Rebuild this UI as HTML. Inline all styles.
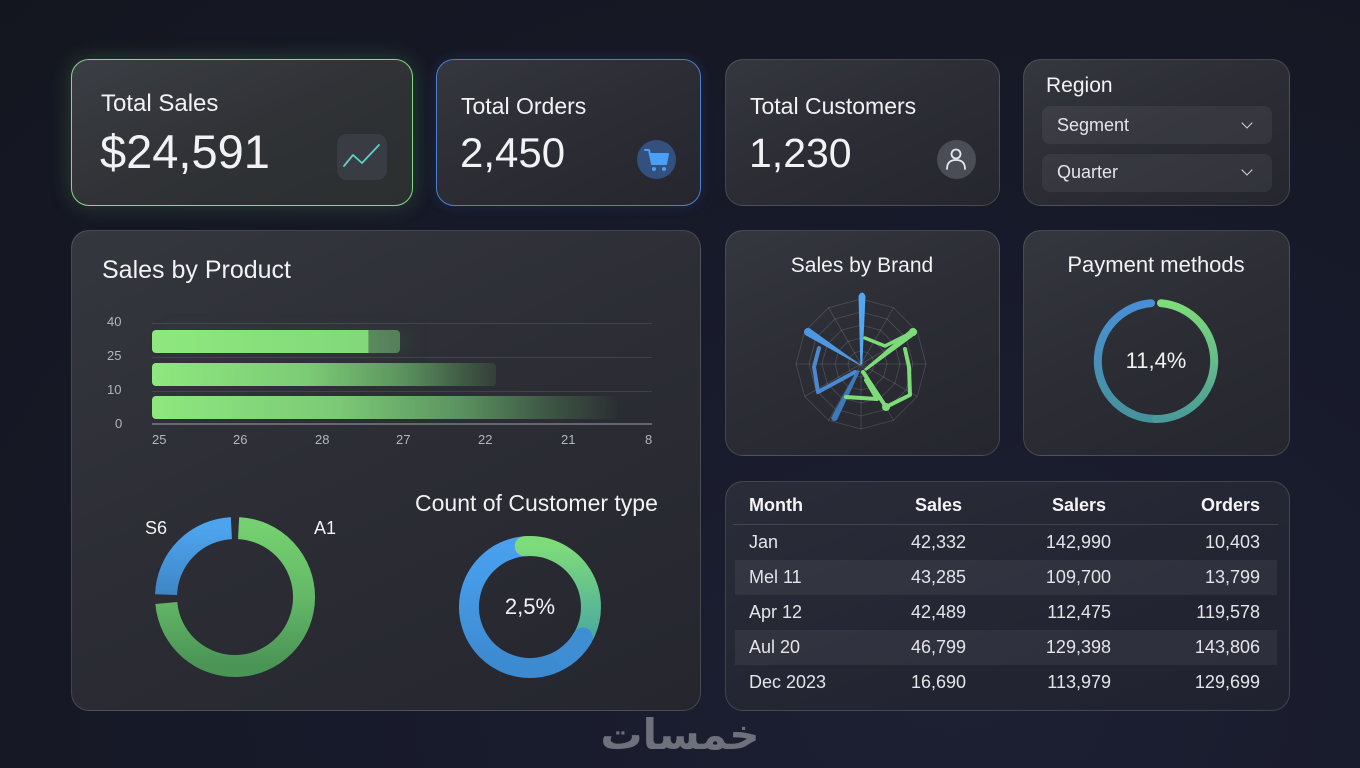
<!DOCTYPE html>
<html>
<head>
<meta charset="utf-8">
<style>
  html,body{margin:0;padding:0;}
  body{width:1360px;height:768px;overflow:hidden;position:relative;
    background:radial-gradient(ellipse at 70% 90%, #1d2033 0%, #171a2a 45%, #14161f 100%);
    font-family:"Liberation Sans", "DejaVu Sans", sans-serif;color:#f2f2f4;}
  .card{position:absolute;border-radius:18px;box-sizing:border-box;
    border:1px solid rgba(255,255,255,0.14);
    background:linear-gradient(155deg,#35373f 0%,#2c2d35 45%,#25262e 100%);}
  .t{position:absolute;white-space:nowrap;line-height:1;}
  .dd{position:absolute;left:1042px;width:230px;height:38px;border-radius:8px;background:rgba(255,255,255,0.06);}
  .chev{position:absolute;width:7px;height:7px;border-right:1.6px solid #d8d8dc;border-bottom:1.6px solid #d8d8dc;transform:rotate(45deg);}
  .ax{position:absolute;font-size:13px;line-height:1;color:#b4b6bd;white-space:nowrap;}
  .bar{position:absolute;left:152px;height:23px;border-radius:4px;}
  .row{position:absolute;left:735px;width:542px;height:35px;background:rgba(255,255,255,0.06);}
  .td{position:absolute;font-size:18px;line-height:1;color:#e4e4e8;white-space:nowrap;}
  .r{text-align:right;}
</style>
</head>
<body>

<!-- Total Sales -->
<div class="card" style="left:71px;top:59px;width:342px;height:147px;border:1.5px solid #86d884;box-shadow:0 0 22px rgba(120,220,120,0.22);background:linear-gradient(155deg,#3b3e44 0%,#303236 50%,#2b2f2f 100%);"></div>
<div class="t" style="left:101px;top:92px;font-size:24px;">Total Sales</div>
<div class="t" style="left:100px;top:128px;font-size:47px;font-weight:500;">$24,591</div>
<div style="position:absolute;left:337px;top:134px;width:50px;height:46px;border-radius:10px;background:#3a3c44;"></div>
<svg style="position:absolute;left:0;top:0" width="1360" height="768">
  <polyline points="344,166 353,155 362,163 379,145" fill="none" stroke="#5fcfc4" stroke-width="1.8" stroke-linejoin="round" stroke-linecap="round"/>
</svg>

<!-- Total Orders -->
<div class="card" style="left:436px;top:59px;width:265px;height:147px;border:1.5px solid #4d7fcc;box-shadow:0 0 12px rgba(80,130,220,0.18);"></div>
<div class="t" style="left:461px;top:95px;font-size:23px;">Total Orders</div>
<div class="t" style="left:460px;top:132px;font-size:42px;">2,450</div>
<div style="position:absolute;left:637px;top:140px;width:39px;height:39px;border-radius:50%;background:#33507f;"></div>

<!-- Total Customers -->
<div class="card" style="left:725px;top:59px;width:275px;height:147px;"></div>
<div class="t" style="left:750px;top:95px;font-size:23px;">Total Customers</div>
<div class="t" style="left:749px;top:133px;font-size:41px;">1,230</div>
<div style="position:absolute;left:937px;top:140px;width:39px;height:39px;border-radius:50%;background:#4b4d56;"></div>

<!-- Region -->
<div class="card" style="left:1023px;top:59px;width:267px;height:147px;"></div>
<div class="t" style="left:1046px;top:75px;font-size:21px;">Region</div>
<div class="dd" style="top:106px;"></div>
<div class="t" style="left:1057px;top:116px;font-size:18px;color:#e4e4e8;">Segment</div>
<div class="chev" style="left:1243px;top:119px;"></div>
<div class="dd" style="top:154px;"></div>
<div class="t" style="left:1057px;top:163px;font-size:18px;color:#e4e4e8;">Quarter</div>
<div class="chev" style="left:1243px;top:166px;"></div>

<!-- Sales by Product -->
<div class="card" style="left:71px;top:230px;width:630px;height:481px;"></div>
<div class="t" style="left:102px;top:258px;font-size:25px;">Sales by Product</div>
<div style="position:absolute;left:152px;top:323px;width:500px;height:1px;background:rgba(255,255,255,0.10);"></div>
<div style="position:absolute;left:152px;top:357px;width:500px;height:1px;background:rgba(255,255,255,0.10);"></div>
<div style="position:absolute;left:152px;top:391px;width:500px;height:1px;background:rgba(255,255,255,0.10);"></div>
<div style="position:absolute;left:152px;top:423px;width:500px;height:2px;background:rgba(255,255,255,0.28);"></div>
<div class="ax" style="left:107px;top:315px;">40</div>
<div class="ax" style="left:107px;top:349px;">25</div>
<div class="ax" style="left:107px;top:383px;">10</div>
<div class="ax" style="left:115px;top:417px;">0</div>
<div class="bar" style="top:330px;width:248px;background:linear-gradient(90deg,#8ee87e 0%,#82d87a 87%,#5a8a5e 87.5%,#557f59 100%);box-shadow:14px 0 16px rgba(60,90,60,0.25);"></div>
<div class="bar" style="top:363px;width:344px;background:linear-gradient(90deg,#8ee87e 0%,#7ccb76 45%,#5c955e 72%,#3e5644 92%,#353f3a 100%);"></div>
<div class="bar" style="top:396px;width:465px;background:linear-gradient(90deg,#8ee87e 0%,#7cc977 40%,#5b9360 66%,#3c5443 86%,rgba(45,52,50,0.4) 100%);"></div>
<div class="ax" style="left:152px;top:433px;">25</div>
<div class="ax" style="left:233px;top:433px;">26</div>
<div class="ax" style="left:315px;top:433px;">28</div>
<div class="ax" style="left:396px;top:433px;">27</div>
<div class="ax" style="left:478px;top:433px;">22</div>
<div class="ax" style="left:561px;top:433px;">21</div>
<div class="ax" style="left:645px;top:433px;">8</div>

<div class="t" style="left:145px;top:519px;font-size:18px;">S6</div>
<div class="t" style="left:314px;top:519px;font-size:18px;">A1</div>
<div class="t" style="left:415px;top:492px;font-size:23px;">Count of Customer type</div>
<div class="t" style="left:530px;top:596px;font-size:22px;transform:translateX(-50%);">2,5%</div>

<!-- Sales by Brand -->
<div class="card" style="left:725px;top:230px;width:275px;height:226px;"></div>
<div class="t" style="left:862px;top:255px;font-size:21px;transform:translateX(-50%);">Sales by Brand</div>

<!-- Payment methods -->
<div class="card" style="left:1023px;top:230px;width:267px;height:226px;"></div>
<div class="t" style="left:1156px;top:254px;font-size:22px;transform:translateX(-50%);">Payment methods</div>
<div class="t" style="left:1156px;top:350px;font-size:22px;transform:translateX(-50%);">11,4%</div>

<!-- Table -->
<div class="card" style="left:725px;top:481px;width:565px;height:230px;background:linear-gradient(160deg,#2a2c38 0%,#232532 60%,#202230 100%);"></div>
<div style="position:absolute;left:733px;top:524px;width:545px;height:1px;background:rgba(255,255,255,0.13);"></div>
<div class="row" style="top:560px;"></div>
<div class="row" style="top:630px;"></div>
<div class="td" style="left:749px;top:496px;font-weight:bold;color:#f4f4f6;">Month</div>
<div class="td r" style="left:862px;width:100px;top:496px;font-weight:bold;color:#f4f4f6;">Sales</div>
<div class="td r" style="left:1006px;width:100px;top:496px;font-weight:bold;color:#f4f4f6;">Salers</div>
<div class="td r" style="left:1160px;width:100px;top:496px;font-weight:bold;color:#f4f4f6;">Orders</div>

<div class="td" style="left:749px;top:533px;">Jan</div>
<div class="td r" style="left:866px;width:100px;top:533px;">42,332</div>
<div class="td r" style="left:1011px;width:100px;top:533px;">142,990</div>
<div class="td r" style="left:1160px;width:100px;top:533px;">10,403</div>

<div class="td" style="left:749px;top:568px;">Mel 11</div>
<div class="td r" style="left:866px;width:100px;top:568px;">43,285</div>
<div class="td r" style="left:1011px;width:100px;top:568px;">109,700</div>
<div class="td r" style="left:1160px;width:100px;top:568px;">13,799</div>

<div class="td" style="left:749px;top:603px;">Apr 12</div>
<div class="td r" style="left:866px;width:100px;top:603px;">42,489</div>
<div class="td r" style="left:1011px;width:100px;top:603px;">112,475</div>
<div class="td r" style="left:1160px;width:100px;top:603px;">119,578</div>

<div class="td" style="left:749px;top:638px;">Aul 20</div>
<div class="td r" style="left:866px;width:100px;top:638px;">46,799</div>
<div class="td r" style="left:1011px;width:100px;top:638px;">129,398</div>
<div class="td r" style="left:1160px;width:100px;top:638px;">143,806</div>

<div class="td" style="left:749px;top:673px;">Dec 2023</div>
<div class="td r" style="left:866px;width:100px;top:673px;">16,690</div>
<div class="td r" style="left:1011px;width:100px;top:673px;">113,979</div>
<div class="td r" style="left:1160px;width:100px;top:673px;">129,699</div>

<!-- Watermark -->
<div class="t" style="left:680px;top:714px;font-size:42px;font-weight:bold;color:#6e717c;transform:translateX(-50%);font-family:'DejaVu Sans',sans-serif;">خمسات</div>

<!-- Charts SVG overlay -->
<svg style="position:absolute;left:0;top:0" width="1360" height="768">
  <defs>
    <linearGradient id="g1" x1="0" y1="0" x2="0" y2="1">
      <stop offset="0" stop-color="#74d070"/>
      <stop offset="0.5" stop-color="#64b866"/>
      <stop offset="1" stop-color="#4a9456"/>
    </linearGradient>
    <linearGradient id="b1" x1="0" y1="0" x2="0" y2="1">
      <stop offset="0" stop-color="#4da4ee"/>
      <stop offset="1" stop-color="#3e86c6"/>
    </linearGradient>
    <linearGradient id="g2" x1="0" y1="0" x2="0" y2="1">
      <stop offset="0" stop-color="#7edb7a"/>
      <stop offset="1" stop-color="#4aa8a0"/>
    </linearGradient>
    <linearGradient id="b2" x1="0" y1="0" x2="0" y2="1">
      <stop offset="0" stop-color="#4aa0ee"/>
      <stop offset="1" stop-color="#3c8ad0"/>
    </linearGradient>
    <linearGradient id="pl" x1="0" y1="0" x2="0" y2="1">
      <stop offset="0" stop-color="#4a8ed6"/>
      <stop offset="1" stop-color="#46929c"/>
    </linearGradient>
    <linearGradient id="pr" x1="0" y1="0" x2="0" y2="1">
      <stop offset="0" stop-color="#7edc7a"/>
      <stop offset="1" stop-color="#4a9a98"/>
    </linearGradient>
  </defs>

  <!-- Cart icon -->
  <g fill="none" stroke="#4aa0f2" stroke-width="2" stroke-linejoin="round" stroke-linecap="round">
    <path d="M645 150 L649 150 L652 164 L666 164 L668 154 L650 154"/>
  </g>
  <path d="M650.5 154 L668 154 L666 164 L652.5 164 Z" fill="#4aa0f2"/>
  <circle cx="654" cy="169" r="2" fill="#4aa0f2"/>
  <circle cx="664" cy="169" r="2" fill="#4aa0f2"/>

  <!-- Person icon -->
  <circle cx="956" cy="154" r="4.5" fill="none" stroke="#e6e6ea" stroke-width="1.8"/>
  <path d="M947 169 Q947 160 956 160 Q965 160 965 169" fill="none" stroke="#e6e6ea" stroke-width="1.8" stroke-linecap="round"/>

  <!-- Donut 1 -->
  <path d="M166.04 594.6 A69 69 0 0 1 231.4 528.1" fill="none" stroke="url(#b1)" stroke-width="22"/>
  <path d="M238.6 528.1 A69 69 0 1 1 166.3 603.0" fill="none" stroke="url(#g1)" stroke-width="22"/>

  <!-- Donut 2 -->
  <path d="M582.8 637.5 A61 61 0 1 1 530 546" fill="none" stroke="url(#b2)" stroke-width="20"/>
  <path d="M524.7 546.2 A61 61 0 0 1 581.7 639.3" fill="none" stroke="url(#g2)" stroke-width="20" stroke-linecap="round"/>
  <path d="M582.8 637.5 A61 61 0 0 1 565 656.9" fill="none" stroke="#3f8ed4" stroke-width="20" stroke-linecap="round"/>

  <!-- Payment ring -->
  <path d="M1151 303.2 A58 58 0 0 0 1156 419" fill="none" stroke="url(#pl)" stroke-width="8" stroke-linecap="round"/>
  <path d="M1161 303.2 A58 58 0 0 1 1156 419" fill="none" stroke="url(#pr)" stroke-width="8" stroke-linecap="round"/>

  <!-- Radar web -->
  <g fill="none" stroke="rgba(255,255,255,0.16)" stroke-width="0.8">
    <polygon points="861,351 867.5,352.7 872.3,357.5 874,364 872.3,370.5 867.5,375.3 861,377 854.5,375.3 849.7,370.5 848,364 849.7,357.5 854.5,352.7"/>
    <polygon points="861,338 874,341.5 883.5,351 887,364 883.5,377 874,386.5 861,390 848,386.5 838.5,377 835,364 838.5,351 848,341.5"/>
    <polygon points="861,325 880.5,330.2 894.8,344.5 900,364 894.8,383.5 880.5,397.8 861,403 841.5,397.8 827.2,383.5 822,364 827.2,344.5 841.5,330.2"/>
    <polygon points="861,312 887,319 906,338 913,364 906,390 887,409 861,416 835,409 816,390 809,364 816,338 835,319"/>
    <polygon points="861,299 893.5,307.7 917.3,331.5 926,364 917.3,396.5 893.5,420.3 861,429 828.5,420.3 804.7,396.5 796,364 804.7,331.5 828.5,307.7"/>
    <line x1="861" y1="364" x2="861" y2="299"/>
    <line x1="861" y1="364" x2="893.5" y2="307.7"/>
    <line x1="861" y1="364" x2="917.3" y2="331.5"/>
    <line x1="861" y1="364" x2="926" y2="364"/>
    <line x1="861" y1="364" x2="917.3" y2="396.5"/>
    <line x1="861" y1="364" x2="893.5" y2="420.3"/>
    <line x1="861" y1="364" x2="861" y2="429"/>
    <line x1="861" y1="364" x2="828.5" y2="420.3"/>
    <line x1="861" y1="364" x2="804.7" y2="396.5"/>
    <line x1="861" y1="364" x2="796" y2="364"/>
    <line x1="861" y1="364" x2="804.7" y2="331.5"/>
    <line x1="861" y1="364" x2="828.5" y2="307.7"/>
  </g>
  <!-- Radar blue -->
  <path d="M860.3 364 L858.5 296 Q862 289 865.5 296 L862.3 364 Z" fill="#55a6f0"/>
  <path d="M860 364.5 L810.1 328.6 L805.9 335.4 L861 366 Z" fill="#4d98e2"/>
  <circle cx="808" cy="332" r="4" fill="#4d98e2"/>
  <polyline points="819,348 814,367 818,392 855,372" fill="none" stroke="#4a88cf" stroke-width="4" stroke-linejoin="round" stroke-linecap="round"/>
  <path d="M857 370 L831 418 Q833 423 837 420 L860 371 Z" fill="#3d78b8"/>
  <!-- Radar green -->
  <path d="M864 369 L911 329 L915 335 L866 371 Z" fill="#7edb7a"/>
  <circle cx="913" cy="332" r="4" fill="#7edb7a"/>
  <polyline points="865,338 885,346 911,333" fill="none" stroke="#7edb7a" stroke-width="3.5" stroke-linejoin="round" stroke-linecap="round"/>
  <polyline points="905,349 909,367 910,395 886,407 863,372" fill="none" stroke="#7edb7a" stroke-width="4" stroke-linejoin="round" stroke-linecap="round"/>
  <circle cx="886" cy="407" r="4" fill="#7edb7a"/>
  <polyline points="846,397 877,399 866,380" fill="none" stroke="#7edb7a" stroke-width="4" stroke-linejoin="round" stroke-linecap="round"/>
</svg>

</body>
</html>
